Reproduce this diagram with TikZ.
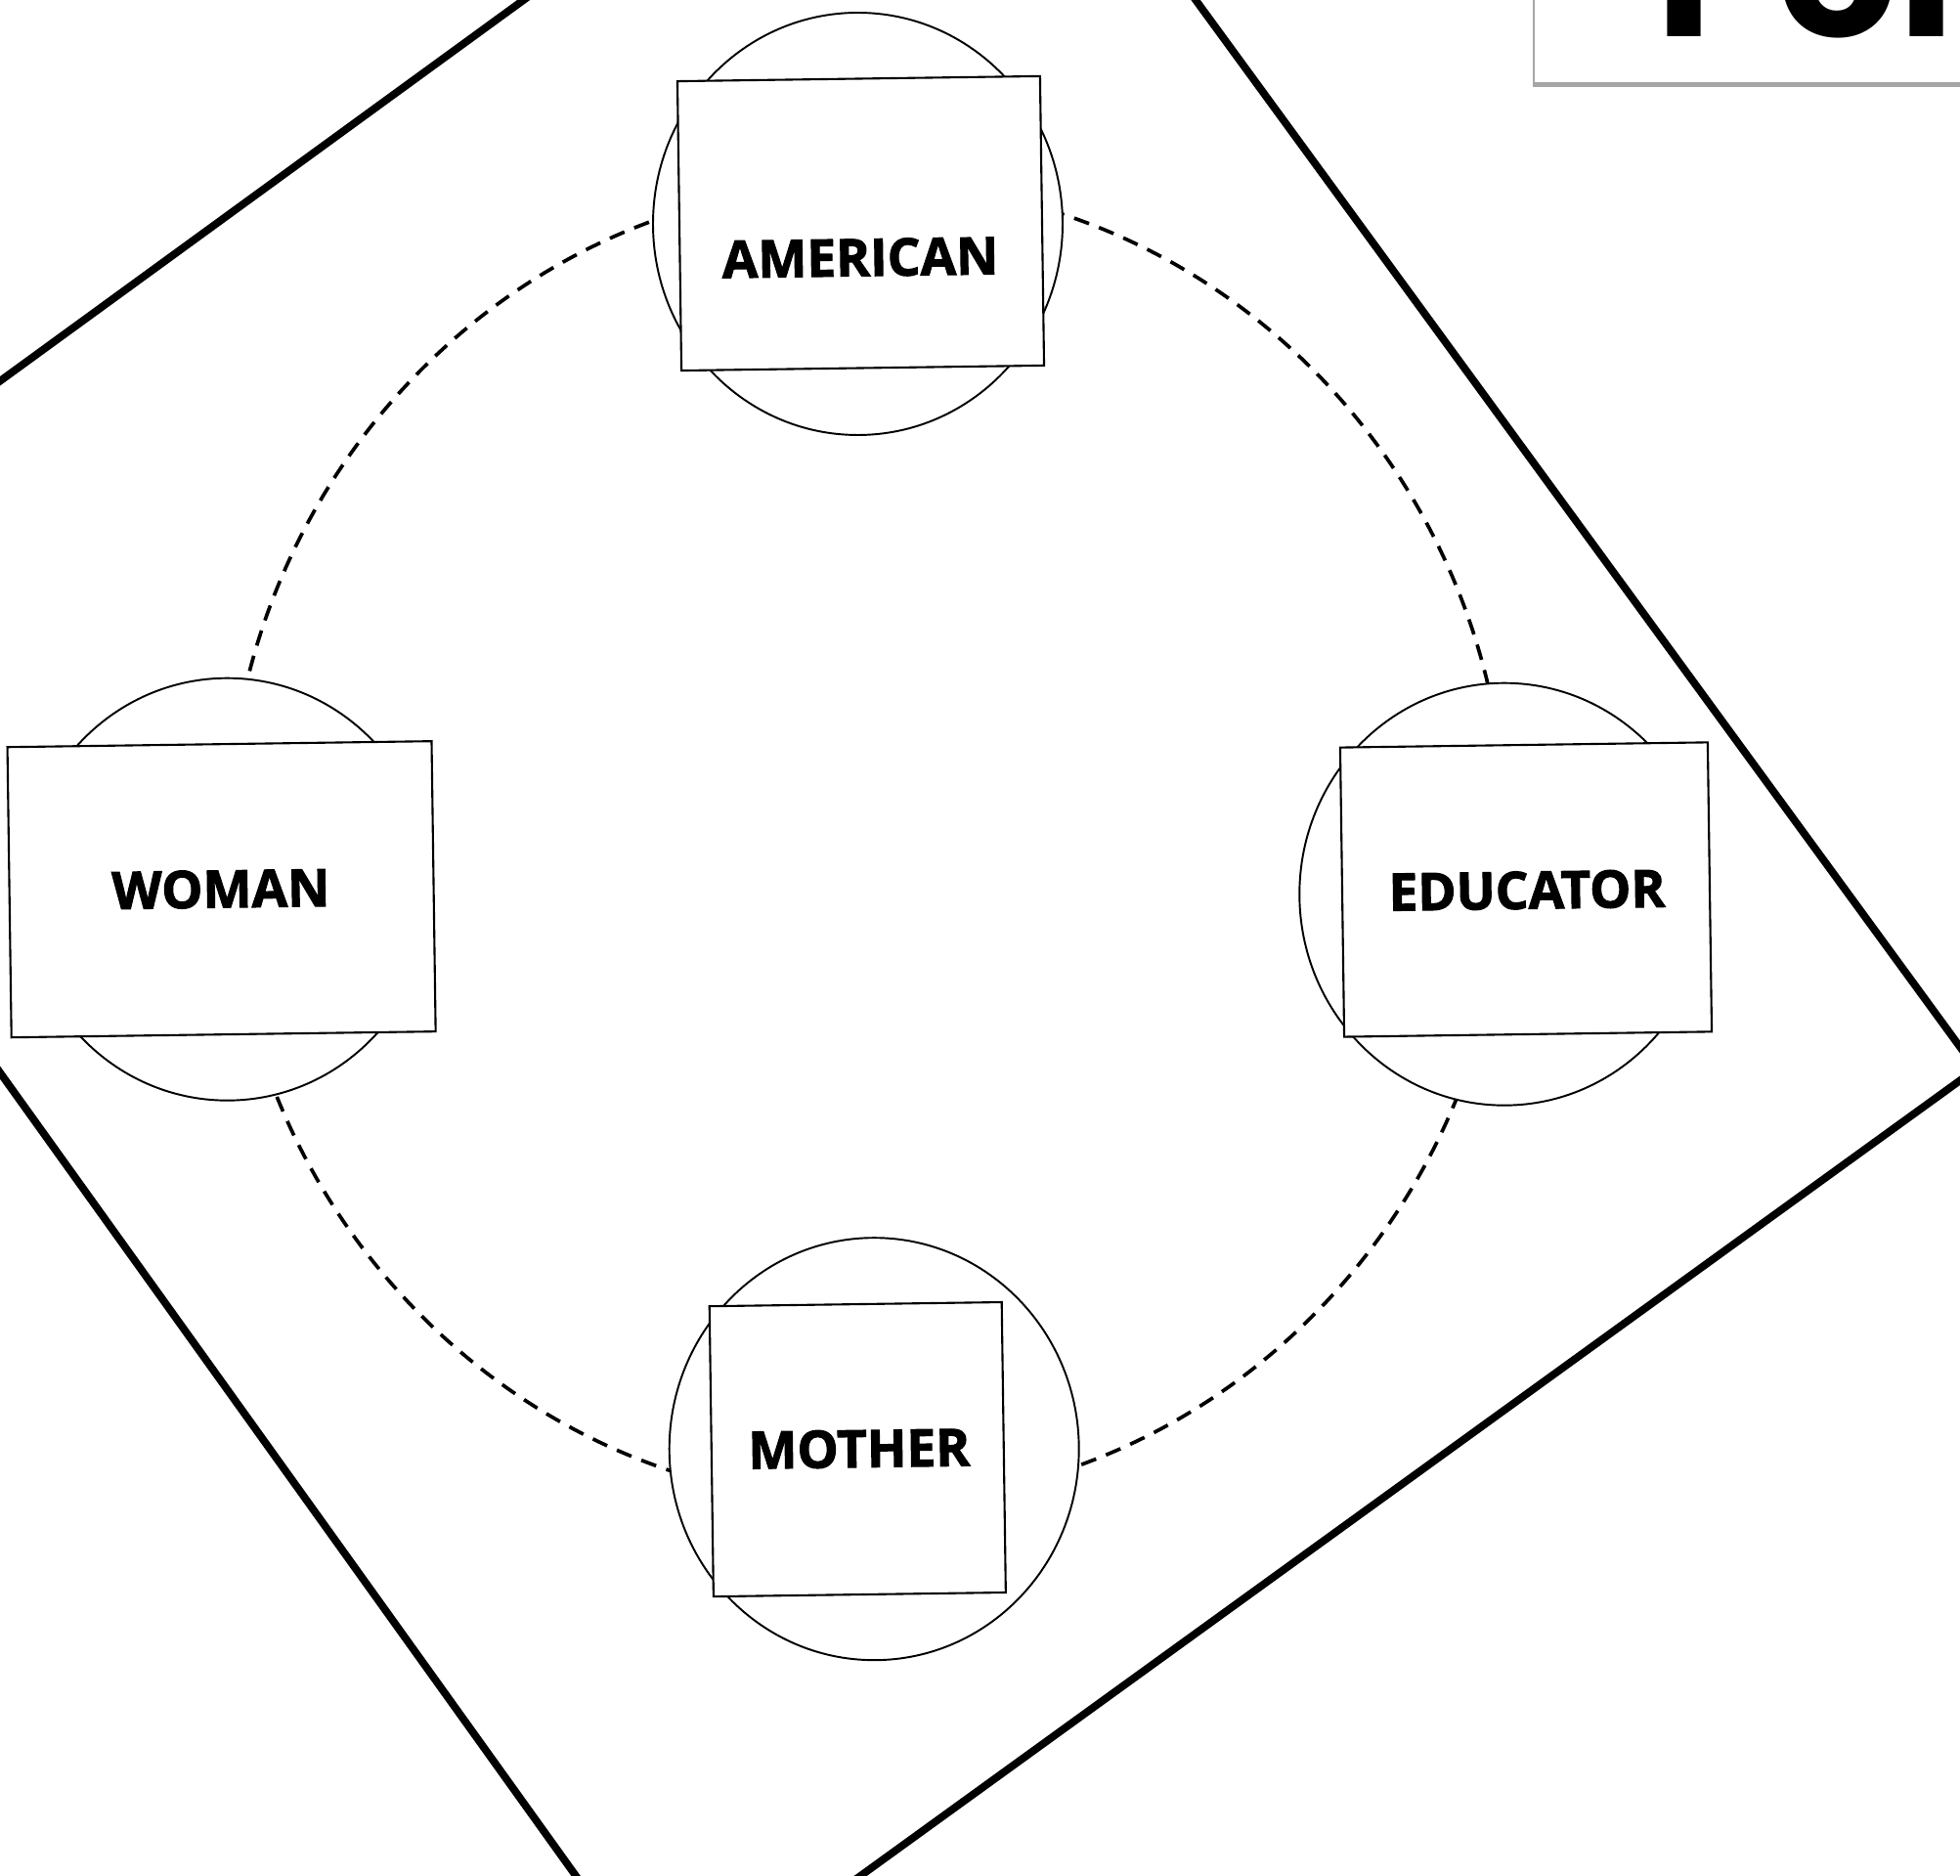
\documentclass[tikz,border=0pt]{standalone}
\usepackage{fontspec}
\setmainfont{Open Sans}[BoldFeatures={FakeBold=2}]
\newfontfamily\titlefont{Poppins}
\usepackage{tkz-euclide}
\usetikzlibrary{shadows, shapes.geometric}
\tikzset{ring/.style = {draw, fill=white, ellipse, line width=0.55pt, inner sep=0pt, minimum width=4.19cm, minimum height=4.32cm}}
\tikzset{card/.style = {draw, fill=white, rectangle, line width=0.6pt, inner sep=0pt, rotate=0.8}}
\tikzset{word/.style = {inner sep=0pt, rotate=0.8, font=\fontsize{15.1}{18}\selectfont\bfseries}}

\begin{document}
\begin{tikzpicture}
\useasboundingbox (0,0) rectangle (20.05,19.19);
\clip (0,0) rectangle (20.05,19.19);
\tkzDefPoints{9.846/22.457/N, 20.214/8.256/E, 6.885/-1.386/S, -3.332/12.867/W}
\tkzDrawPolygon[line width=2.2pt](N,E,S,W)
\draw[dashed, dash pattern=on 4.6pt off 3.1pt, line width=1.05pt] (8.87,10.57) ellipse (6.54 and 6.75);
\node[ring] (american ring) at (8.775,16.90) {};
\node[ring] (woman ring) at (2.325,10.093) {};
\node[ring] (educator ring) at (15.388,10.043) {};
\node[ring] (mother ring) at (8.942,4.368) {};
\node[card, minimum width=3.71cm, minimum height=2.96cm] (american) at (8.805,16.905) {};
\node[card, minimum width=4.34cm, minimum height=2.97cm] (woman) at (2.266,10.093) {};
\node[card, minimum width=3.76cm, minimum height=2.96cm] (educator) at (15.61,10.09) {};
\node[card, minimum width=2.99cm, minimum height=2.97cm] (mother) at (8.773,4.364) {};
\node[word] (american word) at (8.80,16.555) {AMERICAN};
\node[word] (woman word) at (2.258,10.095) {WOMAN};
\node[word] (educator word) at (15.62,10.083) {EDUCATOR};
\node[word] (mother word) at (8.788,4.37) {MOTHER};
% title card, cut by the frame
\node[fill=white, anchor=south west, minimum width=5.5cm, minimum height=2cm, drop shadow={shadow xshift=-0.02cm, shadow yshift=-0.05cm, fill=black, opacity=0.35}] (title card) at (15.69,18.34) {};
\node[anchor=base west, inner sep=0pt, font=\titlefont\bfseries\fontsize{56.9}{60}\selectfont] (title) at (16.93,18.81) {Per};
\end{tikzpicture}
\end{document}
